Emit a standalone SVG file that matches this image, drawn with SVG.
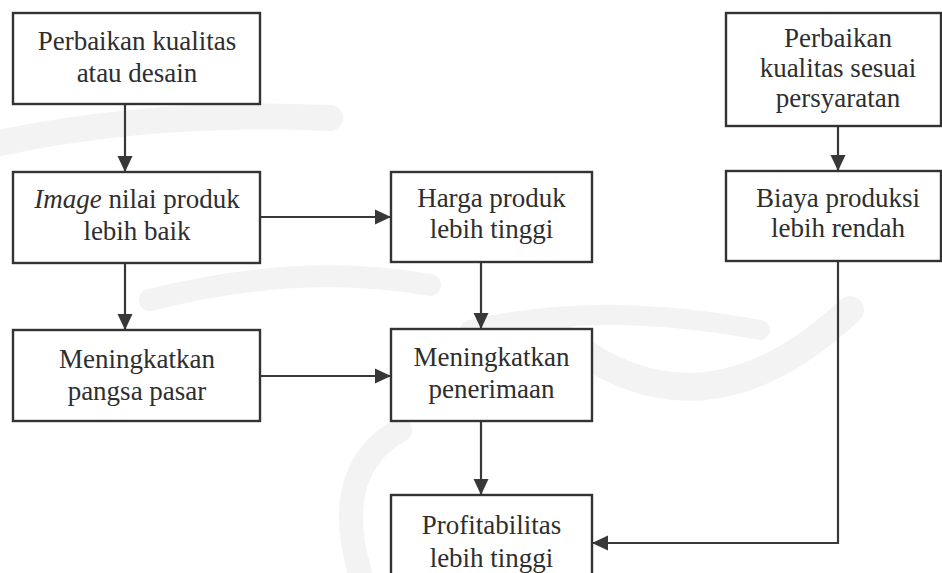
<svg xmlns="http://www.w3.org/2000/svg" width="942" height="573" viewBox="0 0 942 573">
  <style>
    .box { fill: #ffffff; stroke: #333333; stroke-width: 2.4; }
    .lbl { font-family: "Liberation Serif", "Times New Roman", serif; font-size: 27px; fill: #2e2e2e; text-anchor: middle; }
    .wire { fill: none; stroke: #383838; stroke-width: 2.2; }
    .mark { fill: none; stroke: #f3f3f3; stroke-linecap: round; }
  </style>
  <defs>
    <marker id="head" markerUnits="userSpaceOnUse" markerWidth="16" markerHeight="16" viewBox="0 0 16 16" refX="16" refY="8" orient="auto">
      <path d="M0,0.5 L16,8 L0,15.5 Z" fill="#383838"/>
    </marker>
  </defs>

  <rect width="942" height="573" fill="#ffffff"/>

  <!-- faint background emblem -->
  <g id="emblem">
    <path class="mark" stroke-width="26" d="M-10,145 Q150,110 330,118"/>
    <path class="mark" stroke-width="22" d="M150,300 Q300,262 430,285"/>
    <path class="mark" stroke-width="28" d="M560,335 Q700,450 850,310"/>
    <path class="mark" stroke-width="20" d="M470,330 Q600,300 760,330"/>
    <path class="mark" stroke-width="24" d="M360,573 Q330,470 400,430"/>
  </g>

  <g id="connectors">
    <path class="wire" d="M125,104 V172" marker-end="url(#head)"/>
    <path class="wire" d="M260,217 H391" marker-end="url(#head)"/>
    <path class="wire" d="M125,263 V330" marker-end="url(#head)"/>
    <path class="wire" d="M260,376 H391" marker-end="url(#head)"/>
    <path class="wire" d="M481,262 V329" marker-end="url(#head)"/>
    <path class="wire" d="M481,421 V495" marker-end="url(#head)"/>
    <path class="wire" d="M838,126 V171" marker-end="url(#head)"/>
    <path class="wire" d="M838,261 V543 H592" marker-end="url(#head)"/>
  </g>

  <g id="perbaikan-desain">
    <rect class="box" x="13" y="13" width="247" height="91"/>
    <text class="lbl" x="137" y="50">Perbaikan kualitas</text>
    <text class="lbl" x="137" y="82">atau desain</text>
  </g>

  <g id="image-nilai">
    <rect class="box" x="13" y="172" width="247" height="91"/>
    <text class="lbl" x="137" y="208"><tspan font-style="italic">Image</tspan> nilai produk</text>
    <text class="lbl" x="137" y="240">lebih baik</text>
  </g>

  <g id="pangsa-pasar">
    <rect class="box" x="13" y="330" width="247" height="91"/>
    <text class="lbl" x="137" y="368">Meningkatkan</text>
    <text class="lbl" x="137" y="400">pangsa pasar</text>
  </g>

  <g id="harga-produk">
    <rect class="box" x="391" y="172" width="201" height="90"/>
    <text class="lbl" x="491.5" y="207">Harga produk</text>
    <text class="lbl" x="491.5" y="238">lebih tinggi</text>
  </g>

  <g id="penerimaan">
    <rect class="box" x="391" y="329" width="201" height="92"/>
    <text class="lbl" x="491.5" y="366">Meningkatkan</text>
    <text class="lbl" x="491.5" y="398">penerimaan</text>
  </g>

  <g id="profitabilitas">
    <rect class="box" x="391" y="495" width="201" height="90"/>
    <text class="lbl" x="491.5" y="534">Profitabilitas</text>
    <text class="lbl" x="491.5" y="567">lebih tinggi</text>
  </g>

  <g id="perbaikan-syarat">
    <rect class="box" x="726" y="13" width="215" height="113"/>
    <text class="lbl" x="838" y="47">Perbaikan</text>
    <text class="lbl" x="838" y="77">kualitas sesuai</text>
    <text class="lbl" x="838" y="107">persyaratan</text>
  </g>

  <g id="biaya-produksi">
    <rect class="box" x="726" y="171" width="215" height="90"/>
    <text class="lbl" x="838" y="207">Biaya produksi</text>
    <text class="lbl" x="838" y="237">lebih rendah</text>
  </g>
</svg>
